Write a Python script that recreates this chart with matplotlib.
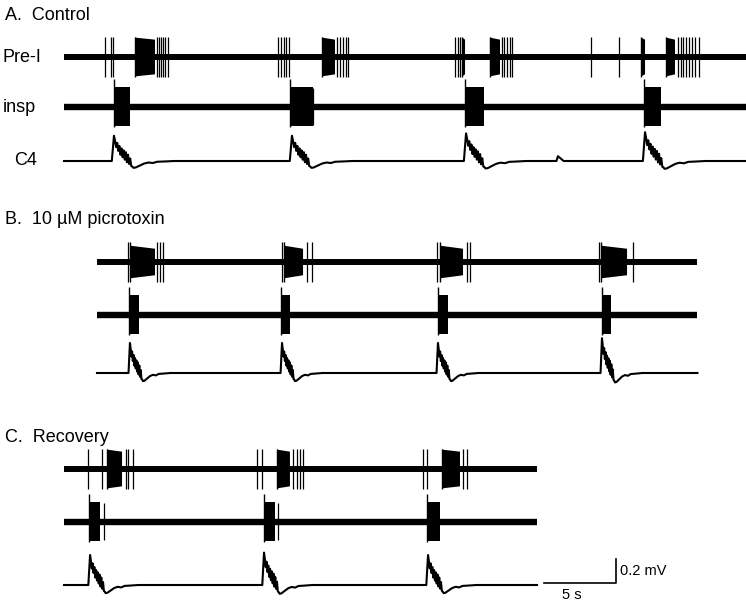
import numpy as np
import matplotlib.pyplot as plt

plt.rcParams['font.family'] = ['Liberation Sans', 'DejaVu Sans']

# ---- data (times in s from the start of each record, amplitudes in mV) ----
panel_titles = ['A.  Control', 'B.  10 \u00b5M picrotoxin', 'C.  Recovery']
row_names = ['Pre-I', 'insp', 'C4']
record_len = [47.4, 41.7, 32.85]
record_start = [0.0, 2.29, 0.0]

# Pre-I neuron: single spikes and dense parts of the bursts
prei_spikes_a = [2.85, 3.26, 3.40, 6.46, 6.60, 6.74, 6.88, 7.01, 7.22,
                 14.86, 15.07, 15.28, 15.42, 15.63, 18.96, 19.17, 19.38, 19.58, 19.72,
                 27.15, 27.36, 27.50, 30.42, 30.56, 30.76, 30.97, 31.11,
                 36.60, 38.54,
                 42.64, 42.85, 42.99, 43.19, 43.40, 43.61, 43.82, 44.10]
prei_dense_a = [(4.93, 6.32), (17.92, 18.82), (27.64, 27.85), (29.58, 30.28),
                (40.07, 40.35), (41.81, 42.43)]
prei_spikes_b = [2.15, 4.17, 4.38, 4.58, 12.85, 14.58, 14.93,
                 23.61, 25.69, 25.90, 34.86, 37.22]
prei_dense_b = [(2.29, 4.03), (12.99, 14.31), (23.82, 25.42), (35.0, 36.81)]
prei_spikes_c = [1.67, 2.64, 4.31, 4.44, 4.79, 13.40, 13.75, 15.90, 16.18, 16.39, 16.60,
                 24.93, 25.21, 27.71, 27.99]
prei_dense_c = [(2.99, 4.03), (14.79, 15.69), (26.25, 27.50)]
# envelope of a dense part: (height at start, height at end) as fraction of a spike
prei_env = [(0.95, 0.85), (0.8, 0.65), (0.95, 0.85)]

# inspiratory neuron bursts
insp_bursts_a = [(3.47, 4.58), (15.69, 17.29), (27.85, 29.17), (40.28, 41.46)]
insp_spikes_a = [16.85, 17.05, 17.29]
insp_bursts_b = [(2.22, 2.92), (12.78, 13.40), (23.68, 24.38), (35.07, 35.69)]
insp_spikes_b = []
insp_bursts_c = [(1.74, 2.50), (13.89, 14.65), (25.21, 26.11)]
insp_spikes_c = [2.78, 14.86]

# C4 ventral root: onset of each integrated burst and its peak
c4_onsets_a = [3.47, 15.83, 27.92, 40.35]
c4_peaks_a = [0.21, 0.21, 0.23, 0.24]
c4_onsets_b = [2.29, 12.85, 23.68, 35.07]
c4_peaks_b = [0.25, 0.25, 0.25, 0.29]
c4_onsets_c = [1.81, 13.89, 25.28]
c4_peaks_c = [0.25, 0.27, 0.25]
c4_small_a = [34.3]

# shape of one C4 burst (time s, fraction of peak)
c4_shape_t = [-0.1, 0.0, 0.05, 0.1, 0.15, 0.2, 0.25, 0.3, 0.35, 0.4, 0.45, 0.5,
              0.55, 0.6, 0.65, 0.7, 0.75, 0.8, 0.85, 0.9, 1.0, 1.1, 1.2, 1.4,
              1.6, 1.8, 2.0, 2.3, 2.8]
c4_shape_v = [0.0, 1.0, 0.8, 0.55, 0.72, 0.4, 0.6, 0.25, 0.5, 0.15, 0.42, 0.05,
              0.35, -0.05, 0.25, -0.12, 0.1, -0.2, -0.22, -0.27, -0.26, -0.22, -0.18, -0.1,
              -0.06, -0.08, -0.03, -0.02, 0.0]
c4_stretch = [1.5, 1.0, 1.2]

spikes = [prei_spikes_a, prei_spikes_b, prei_spikes_c]
dense = [prei_dense_a, prei_dense_b, prei_dense_c]
bursts = [insp_bursts_a, insp_bursts_b, insp_bursts_c]
ispikes = [insp_spikes_a, insp_spikes_b, insp_spikes_c]
c4_on = [c4_onsets_a, c4_onsets_b, c4_onsets_c]
c4_pk = [c4_peaks_a, c4_peaks_b, c4_peaks_c]

# ---- layout (pixel rows of the baselines, 14.4 px per s, 120 px per mV) ----
W, H = 746, 606
PX_S, PX_MV = 14.4, 120.0
X0 = 64
row_px = [[57, 107, 161], [262, 315, 373], [469, 522, 585]]
title_px = [15, 220, 437]

fig = plt.figure(figsize=(W / 100, H / 100), dpi=100)
ax = fig.add_axes([0, 0, 1, 1])
ax.set_xlim(-X0 / PX_S, (W - X0) / PX_S)
ax.set_ylim(-H / PX_MV, 0)
ax.axis('off')

prei_amp = 0.17
for p in range(3):
    off = record_start[p]
    end = off + record_len[p]
    y_pre, y_insp, y_c4 = [-r / PX_MV for r in row_px[p]]

    # Pre-I
    ax.plot([off, end], [y_pre, y_pre], color='k', lw=4.3, solid_capstyle='butt')
    ax.vlines([off + t for t in spikes[p]], y_pre - prei_amp, y_pre + prei_amp,
              color='k', lw=0.9)
    e0, e1 = prei_env[p]
    for t0, t1 in dense[p]:
        ax.vlines([off + t0], y_pre - prei_amp, y_pre + prei_amp, color='k', lw=1.0)
        ax.fill([off + t0, off + t1, off + t1, off + t0],
                [y_pre + e0 * prei_amp, y_pre + e1 * prei_amp,
                 y_pre - e1 * prei_amp, y_pre - e0 * prei_amp],
                color='k', lw=0)

    # insp
    ax.plot([off, end], [y_insp, y_insp], color='k', lw=4.6, solid_capstyle='butt')
    for t0, t1 in bursts[p]:
        ax.vlines([off + t0], y_insp - 0.17, y_insp + 0.23, color='k', lw=1.0)
        ax.fill_between([off + t0, off + t1], y_insp - 0.16, y_insp + 0.17,
                        color='k', lw=0)
    ax.vlines([off + t for t in ispikes[p]], y_insp - 0.15, y_insp + 0.16,
              color='k', lw=0.9)

    # C4
    tt = [off, ]
    vv = [y_c4, ]
    for t_on, pk in zip(c4_on[p], c4_pk[p]):
        for dt, v in zip(c4_shape_t, c4_shape_v):
            tt.append(off + t_on + dt * c4_stretch[p])
            vv.append(y_c4 + v * pk)
    if p == 0:
        for t_on in c4_small_a:
            tt += [off + t_on - 0.1, off + t_on, off + t_on + 0.4]
            vv += [y_c4, y_c4 + 0.04, y_c4]
    tt.append(end)
    vv.append(y_c4)
    order = np.argsort(tt)
    ax.plot(np.array(tt)[order], np.array(vv)[order], color='k', lw=1.5)

    fig.text(5 / W, 1 - title_px[p] / H, panel_titles[p], fontsize=13,
             va='center', ha='left')

for name, r in zip(row_names, row_px[0]):
    fig.text(3 / W if name != 'C4' else 14 / W, 1 - r / H, name, fontsize=13,
             va='center', ha='left')

# scale bars: 5 s and 0.2 mV
sx = (544 - X0) / PX_S
sy = -583 / PX_MV
ax.plot([sx, sx + 5, sx + 5], [sy, sy, sy + 0.2], color='k', lw=1.2)
fig.text(620 / W, 1 - 571 / H, '0.2 mV', fontsize=10.5, va='center', ha='left')
fig.text(572 / W, 1 - 595 / H, '5 s', fontsize=10.5, va='center', ha='center')

fig.savefig('out.png', dpi=100)
